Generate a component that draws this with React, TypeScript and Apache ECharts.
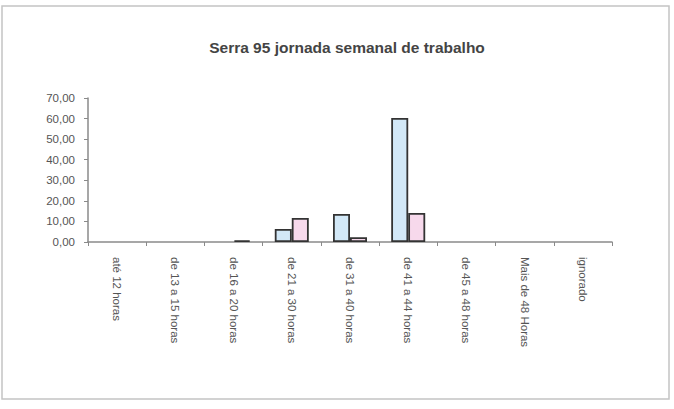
import React, { useEffect, useRef } from "react";
import * as echarts from "echarts";

const categories = [
  "até 12 horas",
  "de 13 a 15 horas",
  "de 16 a 20 horas",
  "de 21 a 30 horas",
  "de 31 a 40 horas",
  "de 41 a 44 horas",
  "de 45 a 48 horas",
  "Mais de 48 Horas",
  "ignorado",
];
const seriesA = [0, 0, 0, 6.3, 13.6, 60.3, 0, 0, 0];
const seriesB = [0, 0, 0.8, 11.7, 2.3, 14.1, 0, 0, 0];
const yTicks = [0, 10, 20, 30, 40, 50, 60, 70];

const hideZero = (arr: number[]) => arr.map((v) => (v === 0 ? null : v));

export default function App() {
  const ref = useRef<HTMLDivElement>(null);
  useEffect(() => {
    document.body.style.margin = "0";
    const chart = echarts.init(ref.current!, undefined, { renderer: "svg" });
    const font = "Liberation Sans, Arial, sans-serif";
    chart.setOption({
      animation: false,
      backgroundColor: "#ffffff",
      title: {
        text: "Serra 95 jornada semanal de trabalho",
        left: 342,
        textAlign: "center",
        top: 34,
        textStyle: { fontFamily: font, fontSize: 15.5, fontWeight: "bold", color: "#444" },
      },
      graphic: [
        {
          type: "rect",
          shape: { x: 2, y: 6, width: 667, height: 393 },
          style: { fill: "none", stroke: "#c4c4c4", lineWidth: 1.5 },
          silent: true,
        },
      ],
      grid: { left: 88, right: 62, top: 98, bottom: 167 },
      xAxis: {
        type: "category",
        data: categories,
        boundaryGap: true,
        axisLine: { lineStyle: { color: "#8a8a8a", width: 1.5 } },
        axisTick: { show: true, alignWithLabel: false, length: 4, lineStyle: { color: "#8a8a8a" } },
        axisLabel: {
          rotate: -90,
          interval: 0,
          margin: 15,
          fontFamily: font,
          fontSize: 11.5,
          color: "#555",
        },
      },
      yAxis: {
        type: "value",
        min: yTicks[0],
        max: yTicks[yTicks.length - 1],
        interval: 10,
        splitLine: { show: false },
        axisLine: { show: true, lineStyle: { color: "#8a8a8a", width: 1.5 } },
        axisTick: { show: true, length: 4, lineStyle: { color: "#8a8a8a" } },
        axisLabel: {
          margin: 13,
          fontFamily: font,
          fontSize: 11.5,
          color: "#555",
          formatter: (v: number) => v.toFixed(2).replace(".", ","),
        },
      },
      series: [
        {
          type: "bar",
          data: hideZero(seriesA),
          barWidth: 17,
          barGap: "0%",
          itemStyle: { color: "#d2e8f7", borderColor: "#333", borderWidth: 1.8 },
        },
        {
          type: "bar",
          data: hideZero(seriesB),
          barWidth: 17,
          barGap: "0%",
          itemStyle: { color: "#f7d9ec", borderColor: "#333", borderWidth: 1.8 },
        },
      ],
    });
    return () => chart.dispose();
  }, []);
  return <div ref={ref} style={{ width: 674, height: 409 }} />;
}
